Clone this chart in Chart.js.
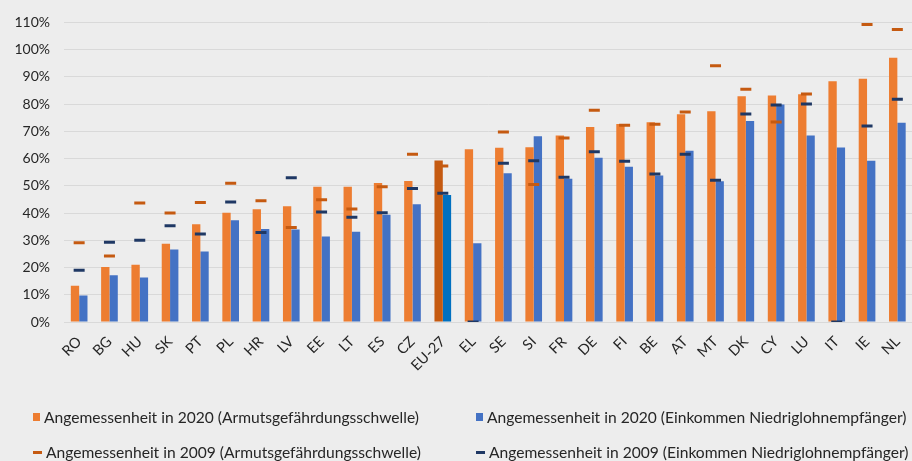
<!DOCTYPE html>
<html>
<head>
<meta charset="utf-8">
<script src="https://cdn.jsdelivr.net/npm/chart.js@4"></script>
<style>
  html, body { margin: 0; padding: 0; background: #EDEDED; overflow: hidden; }
  #wrap { position: relative; width: 912px; height: 461px; overflow: hidden; }
  #box { position: absolute; left: 0; top: 0; width: 921px; height: 390px; }
  #legend { position: absolute; left: 0; top: 0; width: 912px; height: 461px; pointer-events: none;
    font-family: Lato, "Open Sans", sans-serif; font-size: 15.6px; color: #262626; }
  .item { position: absolute; white-space: nowrap; display: flex; align-items: center; }
  .mark { display: inline-block; margin-right: 4px; }
</style>
</head>
<body>
<div id="wrap">
  <div id="box"><canvas id="chart"></canvas></div>
  <div id="legend"></div>
</div>
<script>
const countries = ['RO', 'BG', 'HU', 'SK', 'PT', 'PL', 'HR', 'LV', 'EE', 'LT', 'ES', 'CZ', 'EU-27',
  'EL', 'SE', 'SI', 'FR', 'DE', 'FI', 'BE', 'AT', 'MT', 'DK', 'CY', 'LU', 'IT', 'IE', 'NL'];

// Angemessenheit in 2020 (Armutsgefährdungsschwelle), %
const pov2020 = [13.3, 20.2, 21.0, 28.7, 35.9, 40.1, 41.4, 42.5, 49.7, 49.7, 51.0, 51.8, 59.3,
  63.4, 64.0, 64.2, 68.5, 71.6, 72.7, 73.3, 76.3, 77.4, 82.9, 83.2, 83.6, 88.4, 89.3, 97.0];
// Angemessenheit in 2020 (Einkommen Niedriglohnempfänger), %
const low2020 = [9.7, 17.2, 16.3, 26.6, 25.9, 37.4, 34.1, 34.0, 31.4, 33.1, 39.4, 43.2, 46.6,
  28.9, 54.6, 68.2, 52.6, 60.3, 57.0, 53.8, 62.9, 51.7, 73.8, 79.9, 68.5, 64.1, 59.2, 73.2];
// Angemessenheit in 2009 (Armutsgefährdungsschwelle), %
const pov2009 = [29.1, 24.2, 43.7, 40.0, 43.9, 50.9, 44.5, 34.7, 44.9, 41.5, 49.7, 61.6, 57.3,
  null, 69.8, 50.5, 67.6, 77.7, 72.2, 72.6, 77.1, 94.1, 85.5, 73.4, 83.7, null, 109.2, 107.4];
// Angemessenheit in 2009 (Einkommen Niedriglohnempfänger), %
const low2009 = [19.0, 29.3, 30.0, 35.3, 32.3, 44.1, 32.9, 53.0, 40.4, 38.5, 40.1, 49.0, 47.3,
  0, 58.3, 59.2, 53.1, 62.5, 59.0, 54.3, 61.6, 52.0, 76.4, 79.7, 80.0, 0, 72.0, 81.8];

const yTicks = [0, 10, 20, 30, 40, 50, 60, 70, 80, 90, 100, 110];

const orange = '#ED7D31', blue = '#4472C4';
const orangeEU = '#C55A11', blueEU = '#0070C0';
const orangeDash = '#C55A11', blueDash = '#1F3864';

const family = 'Lato, "Open Sans", sans-serif';

const chart = new Chart(document.getElementById('chart'), {
  type: 'bar',
  data: {
    labels: countries,
    datasets: [
      {
        label: 'Angemessenheit in 2020 (Armutsgefährdungsschwelle)',
        data: pov2020,
        backgroundColor: countries.map(c => c === 'EU-27' ? orangeEU : orange),
        legendColor: orange,
        categoryPercentage: 0.55,
        barPercentage: 1.0,
        order: 2
      },
      {
        label: 'Angemessenheit in 2020 (Einkommen Niedriglohnempfänger)',
        data: low2020,
        backgroundColor: countries.map(c => c === 'EU-27' ? blueEU : blue),
        legendColor: blue,
        categoryPercentage: 0.55,
        barPercentage: 1.0,
        order: 2
      },
      {
        type: 'line',
        label: 'Angemessenheit in 2009 (Armutsgefährdungsschwelle)',
        data: pov2009,
        showLine: false,
        pointStyle: 'line',
        pointRadius: 5.5,
        pointHoverRadius: 5.5,
        pointBorderWidth: 3,
        borderColor: orangeDash,
        backgroundColor: orangeDash,
        legendColor: orangeDash,
        order: 1
      },
      {
        type: 'line',
        label: 'Angemessenheit in 2009 (Einkommen Niedriglohnempfänger)',
        data: low2009,
        showLine: false,
        pointStyle: 'line',
        pointRadius: 5.5,
        pointHoverRadius: 5.5,
        pointBorderWidth: 3,
        borderColor: blueDash,
        backgroundColor: blueDash,
        legendColor: blueDash,
        order: 0
      }
    ]
  },
  options: {
    responsive: true,
    maintainAspectRatio: false,
    animation: false,
    layout: { padding: { top: 10, right: 0, bottom: 0, left: 0 } },
    plugins: {
      legend: { display: false },
      tooltip: { enabled: false }
    },
    scales: {
      x: {
        grid: { display: false },
        border: { display: false },
        ticks: {
          font: { family: family, size: 14.5 },
          color: '#262626',
          minRotation: 45,
          maxRotation: 45,
          padding: 3,
          autoSkip: false
        },
        afterFit: s => { s.height = 68; }
      },
      y: {
        min: 0,
        max: 110,
        afterBuildTicks: s => { s.ticks = yTicks.map(v => ({ value: v })); },
        grid: { color: '#D9D9D9', lineWidth: 1, drawTicks: false },
        border: { display: false },
        ticks: {
          font: { family: family, size: 14 },
          color: '#262626',
          padding: 14,
          callback: v => v + '%'
        },
        afterFit: s => { s.width = 64; }
      }
    }
  }
});

// legend, two columns, built from the chart's datasets
const legend = document.getElementById('legend');
const spots = [[33, 417], [476, 417], [33, 452], [476, 452]];
chart.data.datasets.forEach((ds, i) => {
  const it = document.createElement('div');
  it.className = 'item';
  it.style.left = spots[i][0] + 'px';
  it.style.top = (spots[i][1] - 10) + 'px';
  it.style.height = '20px';
  const m = document.createElement('span');
  m.className = 'mark';
  const isLine = ds.type === 'line';
  m.style.width = isLine ? '9px' : '7px';
  m.style.height = isLine ? '3px' : '8px';
  m.style.background = ds.legendColor;
  it.appendChild(m);
  it.appendChild(document.createTextNode(ds.label));
  legend.appendChild(it);
});
</script>
</body>
</html>
